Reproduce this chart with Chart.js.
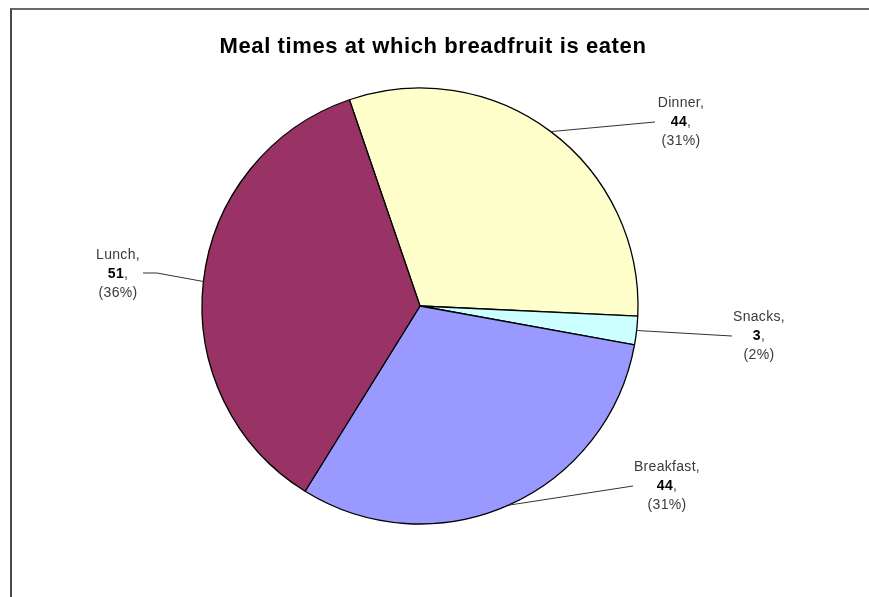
<!DOCTYPE html>
<html>
<head>
<meta charset="utf-8">
<script src="https://cdn.jsdelivr.net/npm/chart.js@4/dist/chart.umd.min.js"></script>
<style>
  html, body { margin: 0; padding: 0; background: #fff; overflow: hidden; }
  #wrap { position: relative; width: 869px; height: 597px; }
  #frame {
    position: absolute; left: 10px; top: 8px; width: 900px; height: 640px;
    border-left: 2px solid #4a4a4a; border-top: 2px solid #6a6a6a;
  }
  canvas { position: absolute; left: 0; top: 0; }
</style>
</head>
<body>
<div id="wrap">
  <div id="frame"></div>
  <canvas id="myChart" width="869" height="597"></canvas>
</div>
<script>
// chart data
const categories = ['Dinner', 'Snacks', 'Breakfast', 'Lunch'];
const values = [44, 3, 44, 51];
const percentLabels = ['(31%)', '(2%)', '(31%)', '(36%)'];
const sliceColors = ['#FFFFCC', '#CCFFFF', '#9999FF', '#993366'];

// where each label block sits, relative to the pie centre (text centre x, first line y)
// plus the point where the leader line meets the text
const labelLayout = [
  { tx: 261, ty: -203, lx: 235, ly: -184 },
  { tx: 339, ty: 11, lx: 312, ly: 30 },
  { tx: 247, ty: 161, lx: 213, ly: 180 },
  { tx: -302, ty: -51, lx: -277, ly: -33, bend: -263 }
];

const labelPlugin = {
  id: 'sliceLabels',
  afterDraw(chart) {
    const ctx = chart.ctx;
    const meta = chart.getDatasetMeta(0);
    ctx.save();
    meta.data.forEach((arc, i) => {
      const mid = (arc.startAngle + arc.endAngle) / 2;
      const ex = arc.x + Math.cos(mid) * arc.outerRadius;
      const ey = arc.y + Math.sin(mid) * arc.outerRadius;
      const L = labelLayout[i];

      // leader line
      ctx.strokeStyle = '#333';
      ctx.lineWidth = 1;
      ctx.beginPath();
      ctx.moveTo(ex, ey);
      if (L.bend !== undefined) {
        ctx.lineTo(arc.x + L.bend, arc.y + L.ly);
      }
      ctx.lineTo(arc.x + L.lx, arc.y + L.ly);
      ctx.stroke();

      // text block
      const cx = arc.x + L.tx;
      const y0 = arc.y + L.ty;
      ctx.letterSpacing = '0.3px';
      ctx.textAlign = 'center';
      ctx.textBaseline = 'middle';
      ctx.fillStyle = '#3a3a3a';
      ctx.font = '14px "Liberation Sans", Arial, sans-serif';
      ctx.fillText(categories[i] + ',', cx, y0);

      const num = String(values[i]);
      ctx.font = 'bold 14px "Liberation Sans", Arial, sans-serif';
      const wNum = ctx.measureText(num).width;
      ctx.font = '14px "Liberation Sans", Arial, sans-serif';
      const wCom = ctx.measureText(',').width;
      const start = cx - (wNum + wCom) / 2;
      ctx.textAlign = 'left';
      ctx.fillStyle = '#000';
      ctx.font = 'bold 14px "Liberation Sans", Arial, sans-serif';
      ctx.fillText(num, start, y0 + 19);
      ctx.fillStyle = '#3a3a3a';
      ctx.font = '14px "Liberation Sans", Arial, sans-serif';
      ctx.fillText(',', start + wNum, y0 + 19);

      ctx.textAlign = 'center';
      ctx.fillText(percentLabels[i], cx, y0 + 38);
    });
    ctx.restore();
  }
};

const config = {
  type: 'pie',
  data: {
    labels: categories,
    datasets: [{
      data: values,
      backgroundColor: sliceColors,
      borderColor: '#000',
      borderWidth: 1.3,
      radius: 218
    }]
  },
  options: {
    responsive: false,
    animation: false,
    rotation: -18.9,
    layout: { padding: { top: 80, bottom: 65, left: 190, right: 219 } },
    plugins: {
      legend: { display: false },
      tooltip: { enabled: false },
      title: {
        display: false
      }
    }
  },
  plugins: [labelPlugin, {
    id: 'topTitle',
    afterDraw(chart) {
      const ctx = chart.ctx;
      ctx.save();
      ctx.font = 'bold 22px "Liberation Sans", Arial, sans-serif';
      ctx.letterSpacing = '0.6px';
      ctx.fillStyle = '#000';
      ctx.textAlign = 'center';
      ctx.textBaseline = 'middle';
      ctx.fillText('Meal times at which breadfruit is eaten', 433, 47);
      ctx.restore();
    }
  }]
};

const myChart = new Chart('myChart', config);
</script>
</body>
</html>
